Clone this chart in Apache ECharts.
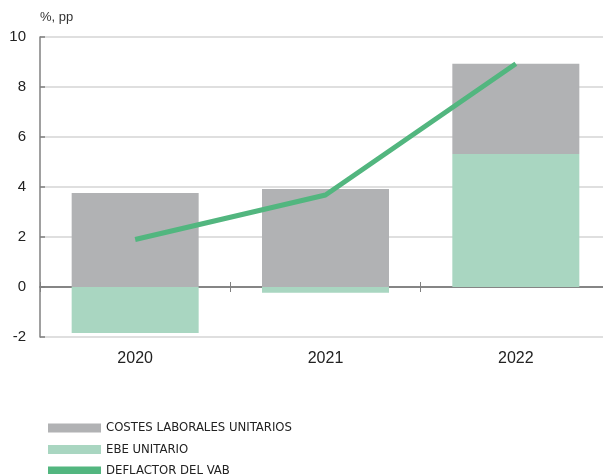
<!DOCTYPE html>
<html><head><meta charset="utf-8">
<script src="https://cdn.jsdelivr.net/npm/echarts@6/dist/echarts.min.js"></script>
<style>html,body{margin:0;padding:0;background:#fff}#c{width:603px;height:474px}</style>
</head><body><div id="c"></div>
<script>
const categories = ['2020', '2021', '2022'];
const costesLaborales = [3.76, 3.92, 3.61];
const ebeUnitario = [-1.84, -0.23, 5.32];
const deflactorVAB = [1.9, 3.68, 8.93];
const yTicks = { min: -2, max: 10, interval: 2 };
const names = ['COSTES LABORALES UNITARIOS', 'EBE UNITARIO', 'DEFLACTOR DEL VAB'];

const chart = echarts.init(document.getElementById('c'), null, { renderer: 'canvas' });
const font = 'Liberation Sans, Arial, sans-serif';
chart.setOption({
  animation: false,
  grid: { left: 40, width: 571, top: 37, height: 300, containLabel: false, outerBoundsMode: 'none' },
  graphic: [{ type: 'text', left: 40, top: 11, style: { text: '%, pp', font: '13px ' + font, fill: '#333' } }],
  legend: {
    orient: 'vertical', left: 43, top: 416, height: 120, itemWidth: 53, itemHeight: 9, itemGap: 7.5,
    icon: 'rect', data: names,
    textStyle: { fontFamily: 'DejaVu Sans Condensed, Liberation Sans Narrow, sans-serif', fontSize: 13, color: '#222', lineHeight: 14 }
  },
  xAxis: [{
    type: 'category', data: categories, position: 'bottom',
    axisLine: { onZero: true, onZeroAxisIndex: 0, lineStyle: { color: '#808080', width: 1.5 } },
    axisTick: { show: true, length: 5, lineStyle: { color: '#808080' } },
    axisLabel: { show: true, color: '#222', fontSize: 16, fontFamily: font, margin: 14 }
  }, {
    type: 'category', data: categories, position: 'top',
    axisLine: { onZero: true, onZeroAxisIndex: 1, lineStyle: { color: '#808080', width: 1.5 } },
    axisTick: { show: true, inside: false, length: 5, lineStyle: { color: '#808080' } },
    axisLabel: { show: false }
  }],
  yAxis: [{
    type: 'value', min: yTicks.min, max: yTicks.max, interval: yTicks.interval,
    axisLine: { show: true, lineStyle: { color: '#808080', width: 1.5 } },
    axisTick: { show: true, inside: true, length: 5, lineStyle: { color: '#808080', width: 1.5 } },
    splitLine: { lineStyle: { color: '#d4d4d4', width: 1.5 } },
    axisLabel: { color: '#222', fontSize: 15, fontFamily: font, margin: 14 }
  }, {
    type: 'value', min: yTicks.min, max: yTicks.max, interval: yTicks.interval, position: 'left',
    axisLine: { show: false }, axisTick: { show: false }, axisLabel: { show: false }, splitLine: { show: false }
  }],
  series: [
    { name: names[1], type: 'bar', stack: 's', data: ebeUnitario, barWidth: 127, itemStyle: { color: '#a9d6c1' } },
    { name: names[0], type: 'bar', stack: 's', data: costesLaborales, barWidth: 127, itemStyle: { color: '#b1b2b4' } },
    { name: names[2], type: 'line', data: deflactorVAB, symbol: 'none', z: 5,
      lineStyle: { color: '#52b67f', width: 5 }, itemStyle: { color: '#52b67f' } }
  ]
});
</script></body></html>
